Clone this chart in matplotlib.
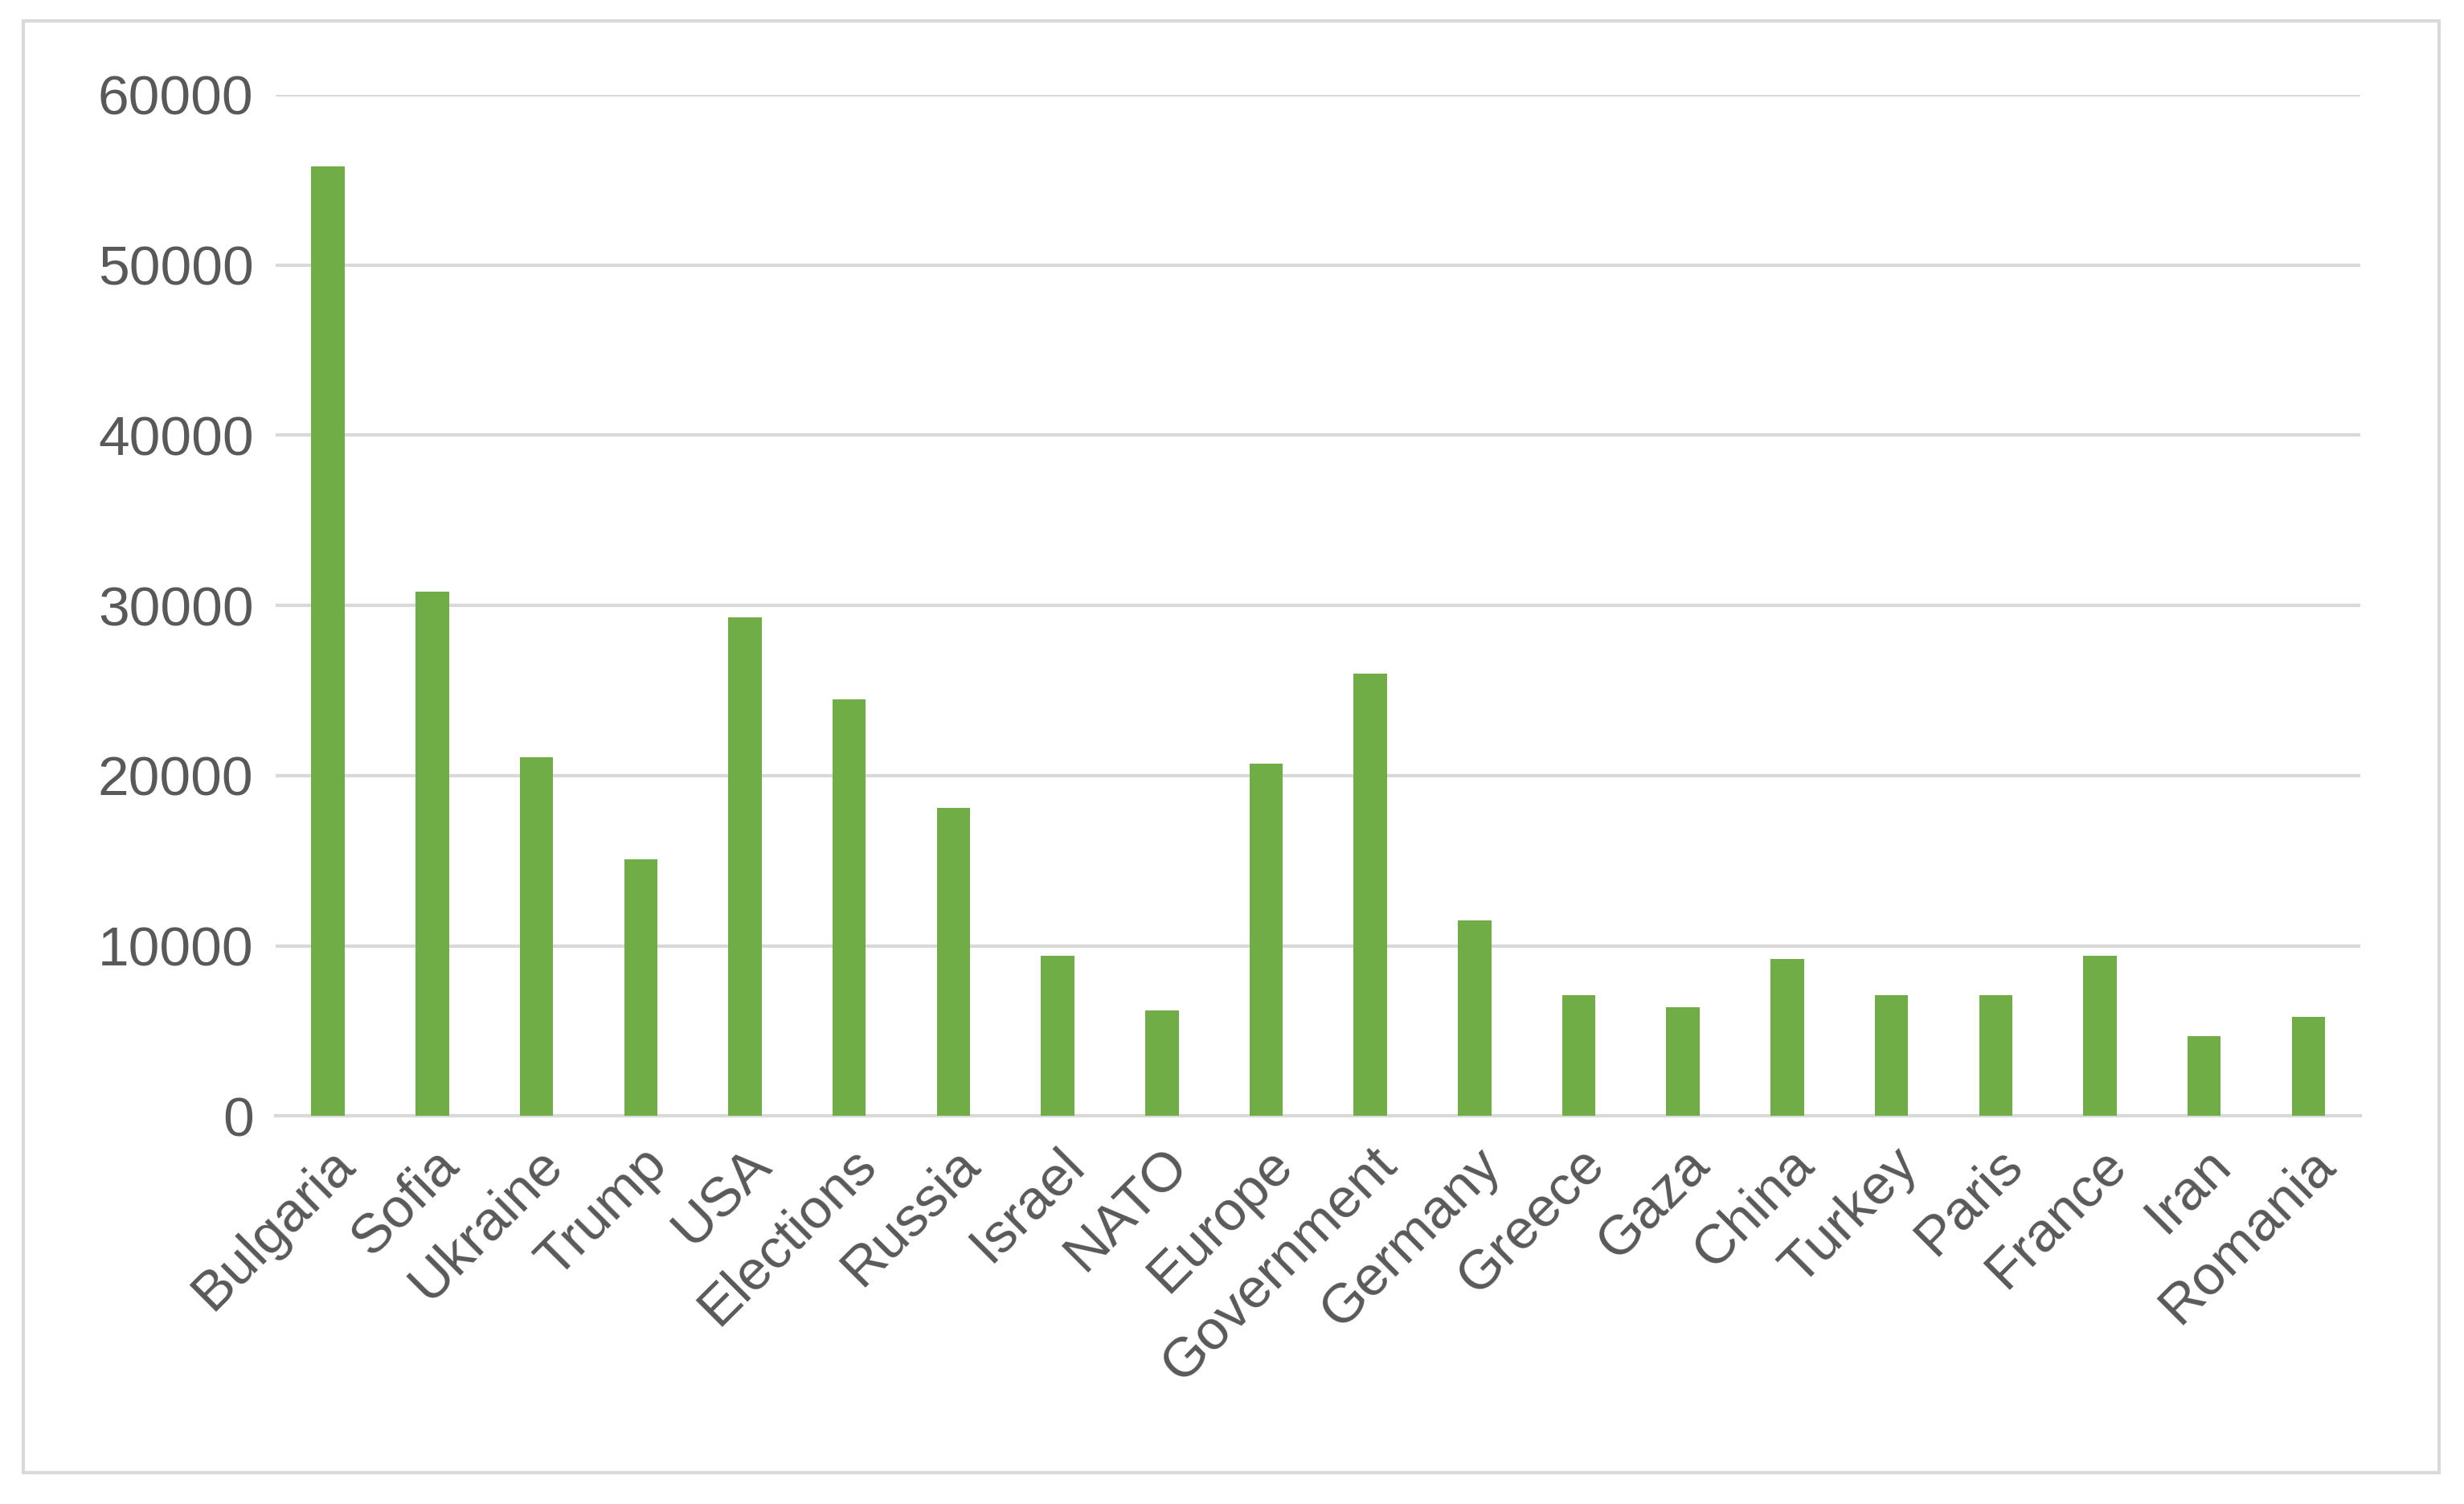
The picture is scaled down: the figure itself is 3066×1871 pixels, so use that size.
import matplotlib.pyplot as plt
from matplotlib.patches import Rectangle

# Term counts
terms = ['Bulgaria', 'Sofia', 'Ukraine', 'Trump', 'USA', 'Elections', 'Russia',
         'Israel', 'NATO', 'Europe', 'Government', 'Germany', 'Greece', 'Gaza',
         'China', 'Turkey', 'Paris', 'France', 'Iran', 'Romania']
counts = [55800, 30800, 21100, 15100, 29300, 24500, 18100, 9400, 6200, 20700,
          26000, 11500, 7100, 6400, 9200, 7100, 7100, 9400, 4700, 5800]
yticks = [0, 10000, 20000, 30000, 40000, 50000, 60000]

plt.rcParams['font.family'] = ['Liberation Sans', 'DejaVu Sans']
txt = '#595959'

fig = plt.figure(figsize=(30.66, 18.71), dpi=100)
ax = fig.add_axes([0.112, 0.258, 0.846, 0.679])

ax.bar(range(len(terms)), counts, width=0.32, color='#70AD47', zorder=3)
ax.set_xlim(-0.5, len(terms) - 0.5)
ax.set_ylim(0, 60000)
ax.set_yticks(yticks)
ax.set_yticklabels([str(v) for v in yticks], fontsize=50, color=txt)
ax.set_xticks(range(len(terms)))
ax.set_xticklabels(terms, rotation=45, ha='right', rotation_mode='anchor',
                   fontsize=50, color=txt)
ax.tick_params(axis='both', length=0, pad=20)
ax.grid(axis='y', color='#D9D9D9', linewidth=3, zorder=0)
for s in ['top', 'right', 'left']:
    ax.spines[s].set_visible(False)
ax.spines['bottom'].set_color('#D9D9D9')
ax.spines['bottom'].set_linewidth(3)

# outer chart border
fig.patches.append(Rectangle((0.0096, 0.021), 0.9802, 0.965, transform=fig.transFigure,
                             fill=False, edgecolor='#D9D9D9', linewidth=3))

fig.savefig('out.png', dpi=100)
